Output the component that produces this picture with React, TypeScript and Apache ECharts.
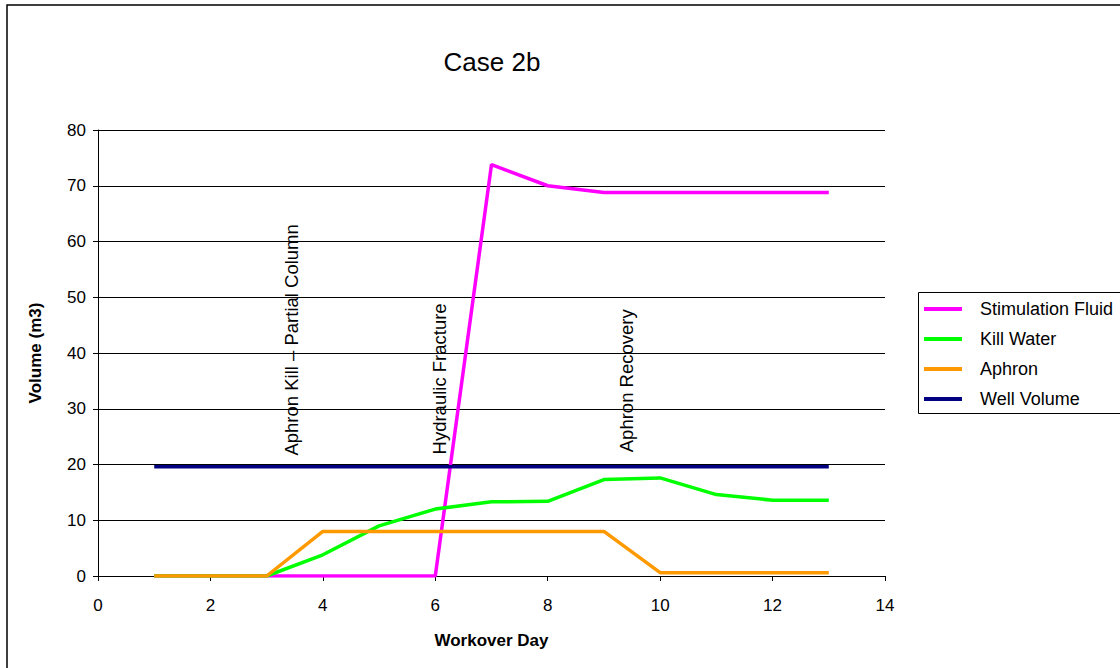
import React, { useEffect, useRef } from "react";
import * as echarts from "echarts";

const days = [1, 2, 3, 4, 5, 6, 7, 8, 9, 10, 11, 12, 13];
const stimulationFluid = [0, 0, 0, 0, 0, 0, 73.8, 70.0, 68.8, 68.8, 68.8, 68.8, 68.8];
const killWater = [0, 0, 0, 3.8, 9.0, 12.0, 13.3, 13.4, 17.3, 17.6, 14.6, 13.6, 13.6];
const aphron = [0, 0, 0, 8, 8, 8, 8, 8, 8, 0.6, 0.6, 0.6, 0.6];
const wellVolume = [19.6, 19.6, 19.6, 19.6, 19.6, 19.6, 19.6, 19.6, 19.6, 19.6, 19.6, 19.6, 19.6];

const seriesNames = ["Stimulation Fluid", "Kill Water", "Aphron", "Well Volume"];
const seriesColors = ["#FF00FF", "#00FF00", "#FF9900", "#000080"];

const annotationLabels = ["Aphron Kill – Partial Column", "Hydraulic Fracture", "Aphron Recovery"];
const annotationDays = [3.45, 6.07, 9.4];
const annotationValues = [21.6, 21.8, 22.2];

const FONT = "'Liberation Sans', Arial, sans-serif";

export default function App() {
  const ref = useRef<HTMLDivElement>(null);
  useEffect(() => {
    if (!ref.current) return;
    const chart = echarts.init(ref.current, null, { renderer: "svg" });
    const allValues = [stimulationFluid, killWater, aphron, wellVolume];
    const option: any = {
      animation: false,
      backgroundColor: "#ffffff",
      textStyle: { fontFamily: FONT, color: "#000" },
      title: {
        text: "Case 2b",
        left: 487,
        top: 44,
        textAlign: "center",
        textStyle: { fontFamily: FONT, fontSize: 26, fontWeight: "normal", color: "#000" },
      },
      grid: { left: 98, top: 130, right: 235, bottom: 92, containLabel: false },
      legend: {
        orient: "vertical",
        left: 924,
        top: 300,
        icon: "rect",
        itemWidth: 38,
        itemHeight: 4,
        itemGap: 12,
        padding: 0,
        textStyle: { fontFamily: FONT, fontSize: 18, color: "#000", padding: [5, 0, 0, 13] },
        data: seriesNames,
      },
      xAxis: {
        type: "value",
        min: 0,
        max: 14,
        interval: 2,
        name: "Workover Day",
        nameLocation: "middle",
        nameGap: 56,
        nameTextStyle: { fontFamily: FONT, fontSize: 17, fontWeight: "bold", color: "#000" },
        axisLine: { show: true, onZero: false, lineStyle: { color: "#000", width: 1 } },
        axisTick: { show: true, inside: false, length: 5, lineStyle: { color: "#000" } },
        axisLabel: { fontFamily: FONT, fontSize: 17, color: "#000", margin: 21 },
        splitLine: { show: false },
      },
      yAxis: {
        type: "value",
        min: 0,
        max: 80,
        interval: 10,
        name: "Volume (m3)",
        nameLocation: "middle",
        nameGap: 54,
        nameTextStyle: { fontFamily: FONT, fontSize: 17, fontWeight: "bold", color: "#000" },
        axisLine: { show: true, lineStyle: { color: "#000", width: 1 } },
        axisTick: { show: true, inside: false, length: 5, lineStyle: { color: "#000" } },
        axisLabel: { fontFamily: FONT, fontSize: 17, color: "#000", margin: 12 },
        splitLine: { show: true, lineStyle: { color: "#000", width: 1 } },
      },
      series: seriesNames.map((name, i) => ({
        name,
        type: "line",
        data: days.map((d, j) => [d, allValues[i][j]]),
        showSymbol: false,
        symbol: "none",
        lineStyle: { color: seriesColors[i], width: 3.5 },
        itemStyle: { color: seriesColors[i] },
        z: 2 + i,
      })),
    };
    chart.setOption(option);

    const annotations = annotationLabels.map((label, i) => {
      const p = chart.convertToPixel({ gridIndex: 0 }, [annotationDays[i], annotationValues[i]]);
      return {
        type: "text",
        x: p[0],
        y: p[1],
        rotation: Math.PI / 2,
        z: 10,
        style: {
          text: label,
          fontFamily: FONT,
          fontSize: 18.5,
          fill: "#000",
          textAlign: "left",
          textVerticalAlign: "middle",
        },
      };
    });

    chart.setOption({
      graphic: [
        {
          type: "rect",
          shape: { x: 7, y: 5, width: 1200, height: 800 },
          style: { fill: "none", stroke: "#000", lineWidth: 1.5 },
          z: 1,
        },
        {
          type: "rect",
          shape: { x: 918.5, y: 292.5, width: 300, height: 121 },
          style: { fill: "none", stroke: "#000", lineWidth: 1 },
          z: 1,
        },
        ...annotations,
      ],
    });

    return () => chart.dispose();
  }, []);
  return (
    <div
      ref={ref}
      style={{ position: "fixed", left: 0, top: 0, width: 1120, height: 668 }}
    />
  );
}
